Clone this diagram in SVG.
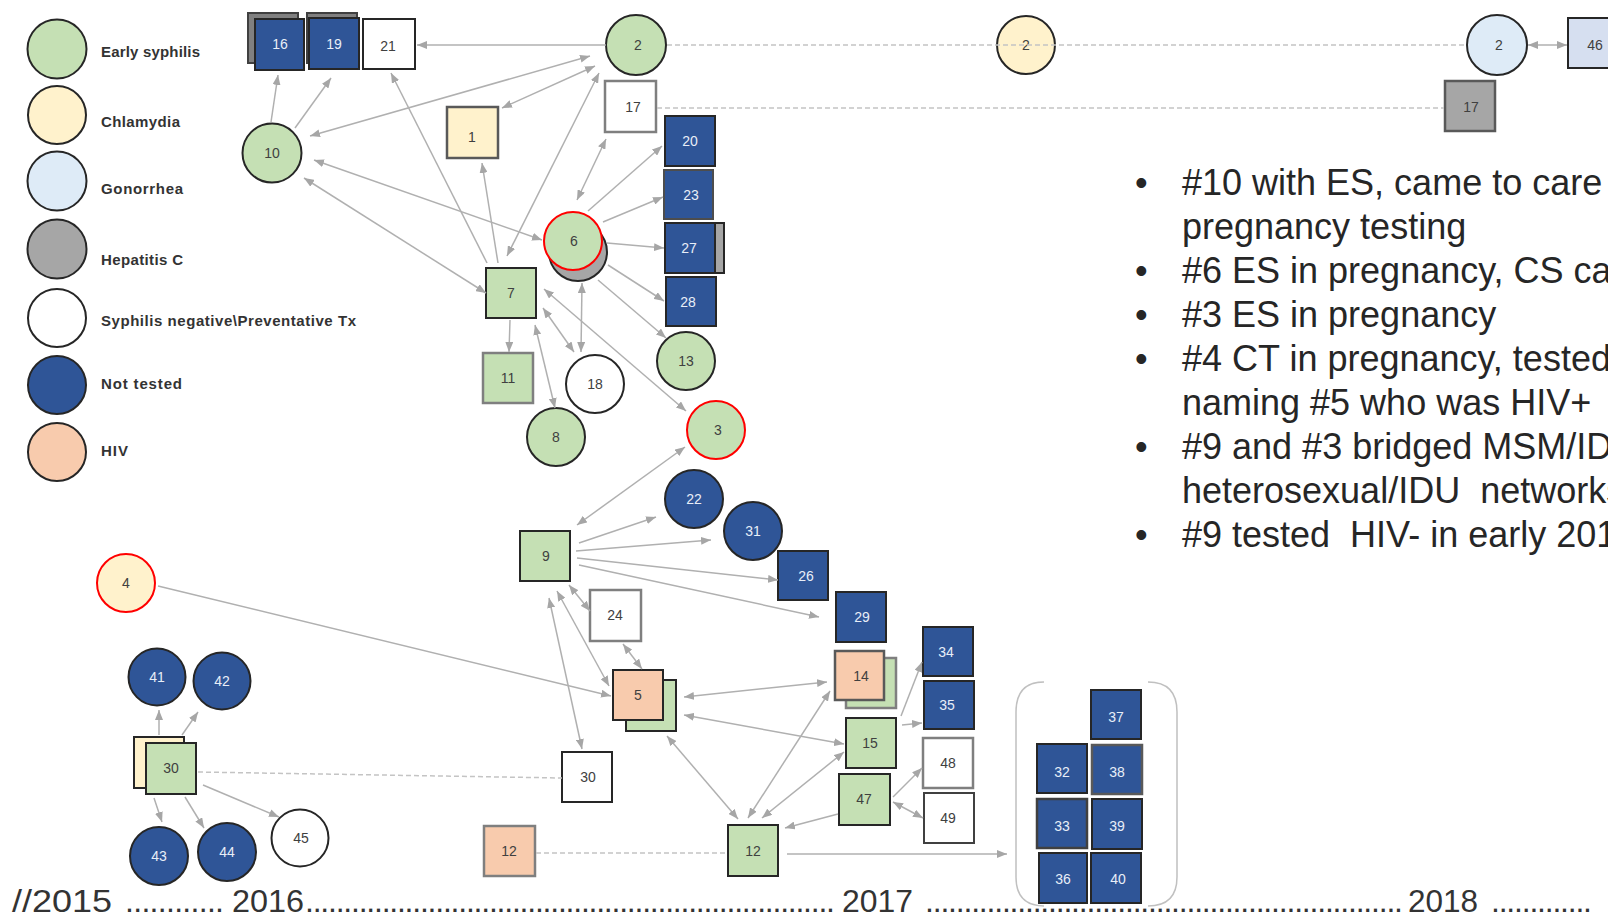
<svg xmlns="http://www.w3.org/2000/svg" width="1608" height="918" viewBox="0 0 1608 918">
  <style>
    .es { fill: #c5e0b4; }
    .ct { fill: #fff2cc; }
    .gc { fill: #deebf7; }
    .hcv { fill: #a6a6a6; }
    .neg { fill: #ffffff; }
    .nt { fill: #2f5597; }
    .hiv { fill: #f8cbad; }
    .ol { stroke: #262626; stroke-width: 2; }
    .olg { stroke: #7f7f7f; stroke-width: 2.5; }
    .red { stroke: #ff0000; stroke-width: 2; }
    .shadow { fill: #808080; stroke: #404040; stroke-width: 2; }
    .lbl { font-family: "Liberation Sans", Arial, sans-serif; font-size: 14px; text-anchor: middle; fill: #404040; }
    .w { fill: #e8eef8; }
    .leg { font-family: "Liberation Sans", Arial, sans-serif; font-size: 15px; font-weight: bold; fill: #333333; }
    .c { stroke: #b0b0b0; stroke-width: 1.5; fill: none; }
    .one { marker-end: url(#ah); }
    .two { marker-start: url(#ah); marker-end: url(#ah); }
    .dash { stroke: #c4c4c4; stroke-dasharray: 5 3; }
    .note { font-family: "Liberation Sans", Arial, sans-serif; font-size: 36px; fill: #262626; white-space: pre; }
    .time { font-family: "Liberation Sans", Arial, sans-serif; font-size: 32px; fill: #333333; }
    .bracket { stroke: #c0c0c0; stroke-width: 1.5; fill: none; }
  </style>
  <defs>
    <marker id="ah" viewBox="0 0 10 8" refX="10" refY="4" markerWidth="10" markerHeight="8" markerUnits="userSpaceOnUse" orient="auto-start-reverse">
      <path d="M0,0 L10,4 L0,8 z" fill="#a6a6a6"/>
    </marker>
  </defs>

  <rect width="1608" height="918" fill="#ffffff"/>

  <!-- Legend -->
  <g id="legend">
    <circle cx="57" cy="49" r="29.5" class="es ol"/>
    <text x="101" y="57" class="leg" textLength="99">Early syphilis</text>
    <circle cx="57" cy="115" r="29" class="ct ol"/>
    <text x="101" y="127" class="leg" textLength="79">Chlamydia</text>
    <circle cx="57" cy="181" r="29.5" class="gc ol"/>
    <text x="101" y="194" class="leg" textLength="82">Gonorrhea</text>
    <circle cx="57" cy="249" r="29.5" class="hcv ol"/>
    <text x="101" y="265" class="leg" textLength="82">Hepatitis C</text>
    <circle cx="57" cy="318" r="29" class="neg ol"/>
    <text x="101" y="326" class="leg" textLength="255">Syphilis negative\Preventative Tx</text>
    <circle cx="57" cy="385" r="29" class="nt ol"/>
    <text x="101" y="389" class="leg" textLength="81">Not tested</text>
    <circle cx="57" cy="452" r="29" class="hiv ol"/>
    <text x="101" y="456" class="leg" textLength="27">HIV</text>
  </g>

  <!-- Nodes -->
  <g id="nodes">
    <g id="node-16"><rect x="248" y="13" width="50" height="50" class="shadow"/><rect x="255" y="19" width="49" height="51" class="nt ol"/><text x="280" y="49" class="lbl w">16</text></g>
    <g id="node-19"><rect x="307" y="13" width="50" height="50" class="shadow"/><rect x="309" y="18" width="50" height="51" class="nt ol"/><text x="334" y="49" class="lbl w">19</text></g>
    <g id="node-21"><rect x="363" y="19" width="52" height="50" class="neg ol"/><text x="388" y="51" class="lbl">21</text></g>
    <g id="node-2-es"><circle cx="636" cy="45" r="30" class="es ol"/><text x="638" y="50" class="lbl">2</text></g>
    <g id="node-17"><rect x="605" y="81" width="51" height="51" class="neg olg"/><text x="633" y="112" class="lbl">17</text></g>
    <g id="node-1"><rect x="447" y="107" width="51" height="51" class="ct" stroke="#595959" stroke-width="2.5"/><text x="472" y="142" class="lbl">1</text></g>
    <g id="node-10"><circle cx="272" cy="153" r="29.5" class="es ol"/><text x="272" y="158" class="lbl">10</text></g>
    <g id="node-20"><rect x="665" y="116" width="50" height="50" class="nt ol"/><text x="690" y="146" class="lbl w">20</text></g>
    <g id="node-23"><rect x="664" y="170" width="49" height="49" class="nt" stroke="#4d4d4d" stroke-width="2"/><text x="691" y="200" class="lbl w">23</text></g>
    <g id="node-27"><rect x="674" y="223" width="50" height="50" class="hcv ol"/><rect x="665" y="223" width="50" height="50" class="nt ol"/><text x="689" y="253" class="lbl w">27</text></g>
    <g id="node-28"><rect x="666" y="277" width="50" height="49" class="nt ol"/><text x="688" y="307" class="lbl w">28</text></g>
    <g id="node-6"><circle cx="578" cy="252" r="29" class="hcv ol"/><circle cx="573" cy="241" r="29" class="es red"/><text x="574" y="246" class="lbl">6</text></g>
    <g id="node-7"><rect x="486" y="268" width="50" height="50" class="es ol"/><text x="511" y="298" class="lbl">7</text></g>
    <g id="node-11"><rect x="483" y="353" width="50" height="50" class="es olg"/><text x="508" y="383" class="lbl">11</text></g>
    <g id="node-18"><circle cx="595" cy="384" r="29" class="neg ol"/><text x="595" y="389" class="lbl">18</text></g>
    <g id="node-8"><circle cx="556" cy="437" r="29" class="es ol"/><text x="556" y="442" class="lbl">8</text></g>
    <g id="node-13"><circle cx="686" cy="361" r="29" class="es ol"/><text x="686" y="366" class="lbl">13</text></g>
    <g id="node-3"><circle cx="716" cy="430" r="29" class="es red"/><text x="718" y="435" class="lbl">3</text></g>
    <g id="node-22"><circle cx="694" cy="499" r="29" class="nt ol"/><text x="694" y="504" class="lbl w">22</text></g>
    <g id="node-31"><circle cx="753" cy="531" r="29" class="nt ol"/><text x="753" y="536" class="lbl w">31</text></g>
    <g id="node-9"><rect x="520" y="531" width="50" height="50" class="es ol"/><text x="546" y="561" class="lbl">9</text></g>
    <g id="node-26"><rect x="778" y="551" width="50" height="49" class="nt ol"/><text x="806" y="581" class="lbl w">26</text></g>
    <g id="node-29"><rect x="836" y="592" width="50" height="50" class="nt ol"/><text x="862" y="622" class="lbl w">29</text></g>
    <g id="node-24"><rect x="590" y="590" width="51" height="51" class="neg olg"/><text x="615" y="620" class="lbl">24</text></g>
    <g id="node-5"><rect x="626" y="680" width="50" height="51" class="es ol"/><rect x="613" y="670" width="50" height="50" class="hiv ol"/><text x="638" y="700" class="lbl">5</text></g>
    <g id="node-14"><rect x="846" y="658" width="50" height="50" class="es olg"/><rect x="835" y="651" width="49" height="49" class="hiv" stroke="#595959" stroke-width="2.5"/><text x="861" y="681" class="lbl">14</text></g>
    <g id="node-15"><rect x="846" y="718" width="50" height="50" class="es ol"/><text x="870" y="748" class="lbl">15</text></g>
    <g id="node-47"><rect x="839" y="774" width="51" height="51" class="es ol"/><text x="864" y="804" class="lbl">47</text></g>
    <g id="node-34"><rect x="923" y="627" width="50" height="49" class="nt ol"/><text x="946" y="657" class="lbl w">34</text></g>
    <g id="node-35"><rect x="924" y="681" width="50" height="48" class="nt ol"/><text x="947" y="710" class="lbl w">35</text></g>
    <g id="node-48"><rect x="923" y="738" width="50" height="50" class="neg olg"/><text x="948" y="768" class="lbl">48</text></g>
    <g id="node-49"><rect x="924" y="793" width="50" height="50" class="neg" stroke="#404040" stroke-width="2"/><text x="948" y="823" class="lbl">49</text></g>
    <g id="node-30-neg"><rect x="562" y="752" width="50" height="50" class="neg ol"/><text x="588" y="782" class="lbl">30</text></g>
    <g id="node-12-hiv"><rect x="484" y="826" width="51" height="50" class="hiv olg"/><text x="509" y="856" class="lbl">12</text></g>
    <g id="node-12-es"><rect x="728" y="825" width="50" height="51" class="es ol"/><text x="753" y="856" class="lbl">12</text></g>

    <g id="node-group-cluster">
      <path class="bracket" d="M1044,682 Q1016,682 1016,712 L1016,877 Q1016,906 1044,906"/>
      <path class="bracket" d="M1148,682 Q1177,682 1177,712 L1177,877 Q1177,906 1148,906"/>
    </g>
    <g id="node-37"><rect x="1091" y="690" width="50" height="49" class="nt ol"/><text x="1116" y="722" class="lbl w">37</text></g>
    <g id="node-32"><rect x="1037" y="744" width="50" height="49" class="nt ol"/><text x="1062" y="777" class="lbl w">32</text></g>
    <g id="node-38"><rect x="1092" y="745" width="50" height="49" class="nt" stroke="#595959" stroke-width="2.5"/><text x="1117" y="777" class="lbl w">38</text></g>
    <g id="node-33"><rect x="1037" y="799" width="50" height="49" class="nt" stroke="#404040" stroke-width="2.5"/><text x="1062" y="831" class="lbl w">33</text></g>
    <g id="node-39"><rect x="1092" y="799" width="50" height="50" class="nt ol"/><text x="1117" y="831" class="lbl w">39</text></g>
    <g id="node-36"><rect x="1039" y="853" width="48" height="50" class="nt ol"/><text x="1063" y="884" class="lbl w">36</text></g>
    <g id="node-40"><rect x="1091" y="853" width="50" height="50" class="nt ol"/><text x="1118" y="884" class="lbl w">40</text></g>

    <g id="node-4"><circle cx="126" cy="583" r="29" class="ct red"/><text x="126" y="588" class="lbl">4</text></g>
    <g id="node-41"><circle cx="157" cy="677" r="28.5" class="nt ol"/><text x="157" y="682" class="lbl w">41</text></g>
    <g id="node-42"><circle cx="222" cy="681" r="28.5" class="nt ol"/><text x="222" y="686" class="lbl w">42</text></g>
    <g id="node-30-es"><rect x="134" y="737" width="50" height="51" class="ct ol"/><rect x="146" y="743" width="50" height="51" class="es ol"/><text x="171" y="773" class="lbl">30</text></g>
    <g id="node-43"><circle cx="159" cy="856" r="29" class="nt ol"/><text x="159" y="861" class="lbl w">43</text></g>
    <g id="node-44"><circle cx="227" cy="852" r="29" class="nt ol"/><text x="227" y="857" class="lbl w">44</text></g>
    <g id="node-45"><circle cx="300" cy="838" r="28.5" class="neg ol"/><text x="301" y="843" class="lbl">45</text></g>

    <g id="node-2-ct"><circle cx="1026" cy="45" r="29" class="ct ol"/><text x="1026" y="50" class="lbl">2</text></g>
    <g id="node-2-gc"><circle cx="1497" cy="45" r="30" class="gc ol"/><text x="1499" y="50" class="lbl">2</text></g>
    <g id="node-46"><rect x="1568" y="18" width="50" height="50" fill="#d6dff0" stroke="#262626" stroke-width="2"/><text x="1595" y="50" class="lbl">46</text></g>
    <g id="node-17-hcv"><rect x="1445" y="81" width="50" height="50" class="hcv" stroke="#595959" stroke-width="2.5"/><text x="1471" y="112" class="lbl">17</text></g>
  </g>

  <!-- Connectors -->
  <g id="connectors">
    <line class="c one" x1="606" y1="45" x2="417" y2="45"/>
    <line class="c two" x1="310" y1="136" x2="590" y2="56"/>
    <line class="c two" x1="502" y1="108" x2="595" y2="66"/>
    <line class="c two" x1="507" y1="256" x2="599" y2="73"/>
    <line class="c one" x1="271" y1="122" x2="278" y2="75"/>
    <line class="c one" x1="295" y1="128" x2="331" y2="78"/>
    <line class="c one" x1="487" y1="263" x2="391" y2="73"/>
    <line class="c one" x1="498" y1="263" x2="482" y2="163"/>
    <line class="c two" x1="314" y1="160" x2="542" y2="240"/>
    <line class="c two" x1="304" y1="178" x2="486" y2="293"/>
    <line class="c two" x1="577" y1="200" x2="606" y2="139"/>
    <line class="c one" x1="588" y1="211" x2="662" y2="146"/>
    <line class="c one" x1="603" y1="222" x2="663" y2="197"/>
    <line class="c one" x1="607" y1="243" x2="664" y2="248"/>
    <line class="c one" x1="608" y1="265" x2="664" y2="301"/>
    <line class="c one" x1="598" y1="280" x2="666" y2="338"/>
    <line class="c one" x1="510" y1="320" x2="509" y2="352"/>
    <line class="c two" x1="535" y1="325" x2="555" y2="408"/>
    <line class="c two" x1="543" y1="308" x2="574" y2="352"/>
    <line class="c two" x1="582" y1="283" x2="581" y2="352"/>
    <line class="c two" x1="544" y1="289" x2="686" y2="411"/>
    <line class="c two" x1="577" y1="525" x2="685" y2="447"/>
    <line class="c one" x1="579" y1="543" x2="656" y2="517"/>
    <line class="c one" x1="576" y1="551" x2="711" y2="540"/>
    <line class="c one" x1="577" y1="558" x2="778" y2="580"/>
    <line class="c one" x1="579" y1="565" x2="819" y2="617"/>
    <line class="c two" x1="569" y1="585" x2="590" y2="611"/>
    <line class="c two" x1="557" y1="591" x2="609" y2="686"/>
    <line class="c two" x1="549" y1="598" x2="582" y2="749"/>
    <line class="c two" x1="623" y1="644" x2="642" y2="669"/>
    <line class="c one" x1="158" y1="586" x2="611" y2="696"/>
    <line class="c two" x1="684" y1="697" x2="827" y2="682"/>
    <line class="c two" x1="684" y1="715" x2="844" y2="744"/>
    <line class="c two" x1="667" y1="736" x2="738" y2="819"/>
    <line class="c two" x1="748" y1="818" x2="830" y2="691"/>
    <line class="c two" x1="762" y1="818" x2="844" y2="752"/>
    <line class="c one" x1="838" y1="814" x2="785" y2="828"/>
    <line class="c one" x1="901" y1="716" x2="922" y2="662"/>
    <line class="c one" x1="902" y1="725" x2="922" y2="723"/>
    <line class="c one" x1="893" y1="797" x2="922" y2="768"/>
    <line class="c two" x1="893" y1="802" x2="923" y2="818"/>
    <line class="c one" x1="787" y1="854" x2="1007" y2="854"/>
    <line class="c one" x1="159" y1="735" x2="159" y2="710"/>
    <line class="c one" x1="182" y1="735" x2="198" y2="712"/>
    <line class="c one" x1="154" y1="798" x2="162" y2="822"/>
    <line class="c one" x1="185" y1="797" x2="204" y2="828"/>
    <line class="c one" x1="203" y1="785" x2="279" y2="817"/>
    <line class="c two" x1="1528" y1="45" x2="1567" y2="45"/>
    <line class="c dash" x1="536" y1="853" x2="728" y2="853"/>
    <line class="c dash" x1="198" y1="772" x2="562" y2="778"/>
    <line class="c dash" x1="667" y1="45" x2="1467" y2="45"/>
    <line class="c dash" x1="657" y1="108" x2="1444" y2="108"/>
  </g>

  <!-- Notes -->
  <g id="notes">
    <text x="1135" y="195" class="note">•</text>
    <text x="1182" y="195" class="note">#10 with ES, came to care</text>
    <text x="1182" y="239" class="note">pregnancy testing</text>
    <text x="1135" y="283" class="note">•</text>
    <text x="1182" y="283" class="note">#6 ES in pregnancy, CS ca</text>
    <text x="1135" y="327" class="note">•</text>
    <text x="1182" y="327" class="note">#3 ES in pregnancy</text>
    <text x="1135" y="371" class="note">•</text>
    <text x="1182" y="371" class="note">#4 CT in pregnancy, tested</text>
    <text x="1182" y="415" class="note">naming #5 who was HIV+</text>
    <text x="1135" y="459" class="note">•</text>
    <text x="1182" y="459" class="note">#9 and #3 bridged MSM/ID</text>
    <text x="1182" y="503" class="note">heterosexual/IDU  networks</text>
    <text x="1135" y="547" class="note">•</text>
    <text x="1182" y="547" class="note">#9 tested  HIV- in early 201</text>
  </g>

  <!-- Timeline -->
  <g id="timeline">
    <text x="12" y="912" class="time" textLength="100" lengthAdjust="spacingAndGlyphs">//2015</text>
    <text x="125" y="912" class="time" textLength="99" lengthAdjust="spacing">............</text>
    <text x="232" y="912" class="time" textLength="72" lengthAdjust="spacingAndGlyphs">2016</text>
    <text x="305" y="912" class="time" textLength="530" lengthAdjust="spacing">.....................................................................</text>
    <text x="842" y="912" class="time" textLength="71" lengthAdjust="spacingAndGlyphs">2017</text>
    <text x="925" y="912" class="time" textLength="478" lengthAdjust="spacing">..............................................................</text>
    <text x="1408" y="912" class="time" textLength="70" lengthAdjust="spacingAndGlyphs">2018</text>
    <text x="1491" y="912" class="time" textLength="101" lengthAdjust="spacing">.............</text>
  </g>
</svg>
